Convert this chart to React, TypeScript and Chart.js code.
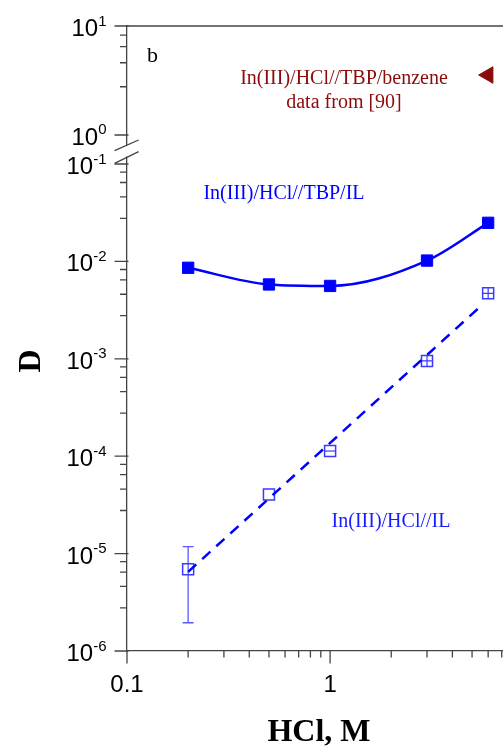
import { useEffect, useRef } from 'react';
import { Chart, registerables } from 'chart.js';

Chart.register(...registerables);

// ---------------- data ----------------
const hclM = [0.2, 0.5, 1, 3, 6];
const dTbpIL = [0.0086, 0.0058, 0.0056, 0.0102, 0.0249];
const dIL = [6.9e-6, 4.05e-5, 1.13e-4, 9.5e-4, 4.7e-3];
const ilMarkStyle = ['', '', 'line', 'cross', 'cross'];
const errHcl = [0.2];
const errLow = [1.95e-6];
const errHigh = [1.18e-5];
const fitHcl = [0.2, 5.5];
const fitIL = [6.5e-6, 3.45e-3];
const benzeneHcl = [6];
const benzeneD = [3.55];

// ---------------- axes ----------------
const xRange = [0.1, 7.1];
const yLowRange = [1e-6, 0.136];
const yTopRange = [0.713, 10];
const xMajor = [0.1, 1];
const xTickLabels = ['0.1', '1'];
const xMinor = [0.2, 0.3, 0.4, 0.5, 0.6, 0.7, 0.8, 0.9, 2, 3, 4, 5, 6, 7];
const yLowMajor = [1e-6, 1e-5, 1e-4, 1e-3, 1e-2, 1e-1];
const yTopMajor = [1, 10];
const yMinorFactors = [2.77, 4.6, 6.46, 8.26];

const AXIS = '#444';
const BLUE = '#0000ff';
const DARKRED = '#8b0a0a';
const SANS = "'Liberation Sans', Arial, sans-serif";
const SERIF = "'Liberation Serif', 'Times New Roman', serif";

function minorsOf(majors: number[]) {
  const out: number[] = [];
  for (let i = 0; i < majors.length - 1; i++) {
    for (const f of yMinorFactors) out.push(majors[i] * f);
  }
  return out;
}

const decorPlugin = {
  id: 'decor',
  beforeDatasetsDraw(chart: any) {
    const ctx = chart.ctx;
    const x = chart.scales.x;
    const y = chart.scales.y;
    ctx.save();
    ctx.strokeStyle = '#5a5aff';
    ctx.lineWidth = 1.3;
    for (let i = 0; i < errHcl.length; i++) {
      const px = x.getPixelForValue(errHcl[i]);
      const lo = y.getPixelForValue(errLow[i]);
      const hi = y.getPixelForValue(errHigh[i]);
      ctx.beginPath();
      ctx.moveTo(px, lo);
      ctx.lineTo(px, hi);
      ctx.moveTo(px - 5.5, lo);
      ctx.lineTo(px + 5.5, lo);
      ctx.moveTo(px - 5.5, hi);
      ctx.lineTo(px + 5.5, hi);
      ctx.stroke();
    }
    ctx.restore();
  },
  afterDraw(chart: any) {
    const ctx = chart.ctx;
    const ca = chart.chartArea;
    const x = chart.scales.x;
    const y = chart.scales.y;
    const yTop = chart.scales.yTop;
    const L = ca.left;
    const B = ca.bottom;
    ctx.save();
    ctx.strokeStyle = AXIS;
    ctx.lineWidth = 1.3;

    // top frame line
    ctx.beginPath();
    ctx.moveTo(L, ca.top);
    ctx.lineTo(ca.right, ca.top);
    ctx.stroke();

    // y ticks
    const yTicks = (scale: any, majors: number[]) => {
      ctx.beginPath();
      for (const v of majors) {
        const p = scale.getPixelForValue(v);
        ctx.moveTo(L - 12.5, p);
        ctx.lineTo(L + 1.5, p);
      }
      for (const v of minorsOf(majors)) {
        const p = scale.getPixelForValue(v);
        ctx.moveTo(L - 7, p);
        ctx.lineTo(L, p);
      }
      ctx.stroke();
    };
    yTicks(y, yLowMajor);
    yTicks(yTop, yTopMajor);

    // x ticks
    ctx.beginPath();
    for (const v of xMajor) {
      const p = x.getPixelForValue(v);
      ctx.moveTo(p, B);
      ctx.lineTo(p, B + 12.5);
    }
    for (const v of xMinor) {
      const p = x.getPixelForValue(v);
      ctx.moveTo(p, B);
      ctx.lineTo(p, B + 6.5);
    }
    ctx.stroke();

    // axis break
    const br = yTop.bottom;
    ctx.fillStyle = '#fff';
    ctx.fillRect(L - 2, br - 5.5, 4, 11);
    ctx.beginPath();
    ctx.moveTo(L - 12.4, br - 0.3);
    ctx.lineTo(L + 11.6, br - 11);
    ctx.moveTo(L - 12.4, br + 12.3);
    ctx.lineTo(L + 11.6, br + 0.7);
    ctx.stroke();

    // y tick labels 10^n
    ctx.fillStyle = '#000';
    const yLabels = (scale: any, majors: number[]) => {
      for (const v of majors) {
        const p = scale.getPixelForValue(v);
        const e = Math.round(Math.log10(v));
        const es = e < 0 ? '-' + Math.abs(e) : String(e);
        ctx.font = `15px ${SANS}`;
        ctx.textAlign = 'right';
        ctx.textBaseline = 'alphabetic';
        const ew = ctx.measureText(es).width;
        ctx.fillText(es, 106.5, p - 0.5);
        ctx.font = `24px ${SANS}`;
        ctx.fillText('10', 106.5 - ew, p + 10);
      }
    };
    yLabels(y, yLowMajor);
    yLabels(yTop, yTopMajor);

    // x tick labels
    ctx.font = `24px ${SANS}`;
    ctx.textAlign = 'center';
    ctx.textBaseline = 'alphabetic';
    xMajor.forEach((v, i) => {
      ctx.fillText(xTickLabels[i], x.getPixelForValue(v), 691.5);
    });

    // axis titles
    ctx.font = `bold 32px ${SERIF}`;
    ctx.textAlign = 'center';
    ctx.textBaseline = 'middle';
    ctx.fillText('HCl, M', 319, 733);
    ctx.save();
    ctx.translate(31, 361);
    ctx.rotate(-Math.PI / 2);
    ctx.fillText('D', 0, 1);
    ctx.restore();

    // annotations
    ctx.textBaseline = 'alphabetic';
    ctx.textAlign = 'left';
    ctx.font = `22px ${SERIF}`;
    ctx.fillText('b', 147, 61.5);

    ctx.textAlign = 'center';
    ctx.font = `20px ${SERIF}`;
    ctx.fillStyle = DARKRED;
    ctx.fillText('In(III)/HCl//TBP/benzene', 344, 84);
    ctx.fillText('data from [90]', 344, 108);
    ctx.fillStyle = BLUE;
    ctx.fillText('In(III)/HCl//TBP/IL', 284, 199);
    ctx.fillStyle = '#1a1aff';
    ctx.fillText('In(III)/HCl//IL', 391, 527);
    ctx.restore();
  },
};

export default function App() {
  const ref = useRef<HTMLCanvasElement>(null);
  useEffect(() => {
    const chart = new Chart(ref.current as HTMLCanvasElement, {
      type: 'scatter',
      data: {
        datasets: [
          {
            label: 'fit IL',
            data: fitHcl.map((v, i) => ({ x: v, y: fitIL[i] })),
            yAxisID: 'y',
            showLine: true,
            borderColor: BLUE,
            borderWidth: 2.5,
            borderDash: [11, 8],
            pointRadius: 0,
          },
          {
            label: 'In(III)/HCl//TBP/IL',
            data: hclM.map((v, i) => ({ x: v, y: dTbpIL[i] })),
            yAxisID: 'y',
            showLine: true,
            cubicInterpolationMode: 'monotone',
            borderColor: BLUE,
            backgroundColor: BLUE,
            borderWidth: 2.5,
            pointStyle: 'rect',
            pointRadius: 8,
            pointBorderWidth: 1,
            pointBackgroundColor: BLUE,
            pointBorderColor: BLUE,
          },
          {
            label: 'In(III)/HCl//IL',
            data: hclM.map((v, i) => ({ x: v, y: dIL[i] })),
            yAxisID: 'y',
            showLine: false,
            pointStyle: 'rect',
            pointRadius: 7.8,
            pointBorderWidth: 1.5,
            pointBackgroundColor: 'rgba(0,0,0,0)',
            pointBorderColor: '#3a3aff',
          },
          {
            label: 'IL replicate marks',
            data: hclM.map((v, i) => ({ x: v, y: dIL[i] })),
            yAxisID: 'y',
            showLine: false,
            pointStyle: ilMarkStyle.map((s) => (s ? s : 'cross')) as any,
            pointRadius: ilMarkStyle.map((s) => (s ? 5.5 : 0)),
            pointBorderWidth: 1.2,
            pointBorderColor: '#3a3aff',
          },
          {
            label: 'In(III)/HCl//TBP/benzene',
            data: benzeneHcl.map((v, i) => ({ x: v, y: benzeneD[i] })),
            yAxisID: 'yTop',
            showLine: false,
            pointStyle: 'triangle',
            rotation: -90,
            pointRadius: 9.5,
            pointBorderWidth: 1,
            pointBackgroundColor: DARKRED,
            pointBorderColor: DARKRED,
          },
        ],
      },
      options: {
        responsive: false,
        devicePixelRatio: 1,
        animation: false,
        layout: { autoPadding: false, padding: { top: 26, left: 0, right: 0, bottom: 0 } },
        plugins: { legend: { display: false }, tooltip: { enabled: false } },
        scales: {
          x: {
            type: 'logarithmic',
            min: xRange[0],
            max: xRange[1],
            bounds: 'data',
            ticks: { display: false },
            grid: { display: false },
            border: { display: true, color: AXIS, width: 1.3 },
            afterFit: (s: any) => {
              s.height = 97;
            },
          },
          y: {
            type: 'logarithmic',
            position: 'left',
            stack: 'D',
            stackWeight: 4,
            min: yLowRange[0],
            max: yLowRange[1],
            bounds: 'data',
            ticks: { display: false },
            grid: { display: false },
            border: { display: true, color: AXIS, width: 1.3 },
            afterFit: (s: any) => {
              s.width = 127;
            },
          },
          yTop: {
            type: 'logarithmic',
            position: 'left',
            stack: 'D',
            stackWeight: 1,
            min: yTopRange[0],
            max: yTopRange[1],
            bounds: 'data',
            ticks: { display: false },
            grid: { display: false },
            border: { display: true, color: AXIS, width: 1.3 },
            afterFit: (s: any) => {
              s.width = 127;
            },
          },
        } as any,
      },
      plugins: [decorPlugin],
    } as any);
    return () => chart.destroy();
  }, []);
  return (
    <div style={{ position: 'absolute', left: 0, top: 0, width: 503, height: 748, background: '#fff' }}>
      <canvas ref={ref} width={503} height={748} style={{ display: 'block', width: 503, height: 748 }} />
    </div>
  );
}
